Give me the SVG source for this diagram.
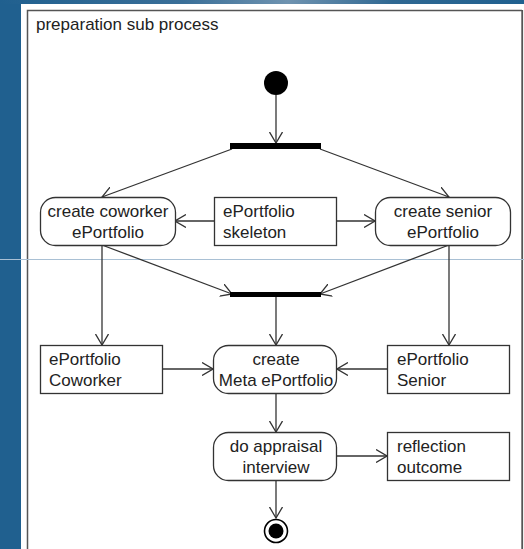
<svg xmlns="http://www.w3.org/2000/svg" width="524" height="549" viewBox="0 0 524 549">
<defs>
<linearGradient id="topg" x1="0" y1="0" x2="1" y2="0">
<stop offset="0" stop-color="#20608f"/>
<stop offset="0.35" stop-color="#3a6f98"/>
<stop offset="0.55" stop-color="#6f93b0"/>
<stop offset="0.75" stop-color="#2f6892"/>
<stop offset="1" stop-color="#20608f"/>
</linearGradient>
<marker id="ah" markerUnits="userSpaceOnUse" viewBox="0 0 12 14" refX="11" refY="7" markerWidth="12" markerHeight="14" orient="auto">
<path d="M0,0.5 L11,7 L0,13.5" fill="none" stroke="#333" stroke-width="1.3"/>
</marker>
<style>
.t{font-family:"Liberation Sans",Arial,sans-serif;font-size:17px;fill:#222}
.n{fill:#fff;stroke:#333;stroke-width:1.3}
.e{fill:none;stroke:#333;stroke-width:1.3;marker-end:url(#ah)}
.bar{fill:#000}
</style>
</defs>
<rect x="0" y="0" width="524" height="549" fill="#20608f"/>
<rect x="0" y="0" width="524" height="4" fill="url(#topg)"/>
<rect x="21" y="4" width="503" height="545" fill="#fff"/>
<path d="M27.5,549 V10.5 H522" fill="none" stroke="#555" stroke-width="1.5"/>
<line x1="522.2" y1="10" x2="522.2" y2="549" stroke="#555" stroke-width="1.8"/>
<line x1="0" y1="259.5" x2="524" y2="259.5" stroke="#a9c0d4" stroke-width="1"/>
<text class="t" x="36" y="30">preparation sub process</text>

<g id="connectors">
<line class="e" x1="276" y1="95" x2="276" y2="143"/>
<line class="e" x1="232" y1="149" x2="102" y2="197"/>
<line class="e" x1="320" y1="149" x2="449" y2="197"/>
<line class="e" x1="214" y1="221" x2="175" y2="221"/>
<line class="e" x1="337" y1="221" x2="375" y2="221"/>
<line class="e" x1="102" y1="245" x2="232" y2="294"/>
<line class="e" x1="449" y1="245" x2="320" y2="294"/>
<line class="e" x1="102" y1="245" x2="102" y2="345"/>
<line class="e" x1="449" y1="245" x2="449" y2="345"/>
<line class="e" x1="276" y1="297" x2="276" y2="345"/>
<line class="e" x1="163" y1="369" x2="213" y2="369"/>
<line class="e" x1="387" y1="369" x2="337" y2="369"/>
<line class="e" x1="276" y1="393" x2="276" y2="432"/>
<line class="e" x1="337" y1="456" x2="387" y2="456"/>
<line class="e" x1="276" y1="481" x2="276" y2="518"/>
</g>

<g id="start"><circle cx="276" cy="83" r="12" fill="#000"/></g>
<g id="fork1"><rect class="bar" x="230" y="143" width="91" height="6"/></g>
<g id="createCoworker">
<rect class="n" x="40.5" y="197.5" width="135" height="48" rx="15"/>
<text class="t" x="108" y="217" text-anchor="middle">create coworker</text>
<text class="t" x="108" y="238" text-anchor="middle">ePortfolio</text>
</g>
<g id="skeleton">
<rect class="n" x="214.5" y="197.5" width="122" height="48"/>
<text class="t" x="223" y="217">ePortfolio</text>
<text class="t" x="223" y="238">skeleton</text>
</g>
<g id="createSenior">
<rect class="n" x="375.5" y="197.5" width="135" height="48" rx="15"/>
<text class="t" x="443" y="217" text-anchor="middle">create senior</text>
<text class="t" x="443" y="238" text-anchor="middle">ePortfolio</text>
</g>
<g id="join"><rect class="bar" x="230" y="292" width="91" height="5"/></g>
<g id="portCoworker">
<rect class="n" x="40.5" y="345.5" width="122" height="48"/>
<text class="t" x="49" y="365">ePortfolio</text>
<text class="t" x="49" y="386">Coworker</text>
</g>
<g id="createMeta">
<rect class="n" x="213.5" y="345.5" width="123" height="48" rx="15"/>
<text class="t" x="276" y="365" text-anchor="middle">create</text>
<text class="t" x="276" y="386" text-anchor="middle">Meta ePortfolio</text>
</g>
<g id="portSenior">
<rect class="n" x="387.5" y="345.5" width="122" height="48"/>
<text class="t" x="397" y="365">ePortfolio</text>
<text class="t" x="397" y="386">Senior</text>
</g>
<g id="appraisal">
<rect class="n" x="213.5" y="432.5" width="123" height="48" rx="15"/>
<text class="t" x="276" y="452" text-anchor="middle">do appraisal</text>
<text class="t" x="276" y="473" text-anchor="middle">interview</text>
</g>
<g id="reflection">
<rect class="n" x="387.5" y="432.5" width="122" height="48"/>
<text class="t" x="397" y="452">reflection</text>
<text class="t" x="397" y="473">outcome</text>
</g>
<g id="final">
<circle cx="276" cy="531" r="11.5" fill="#fff" stroke="#000" stroke-width="1.6"/>
<circle cx="276" cy="531" r="7.5" fill="#000"/>
</g>
</svg>
